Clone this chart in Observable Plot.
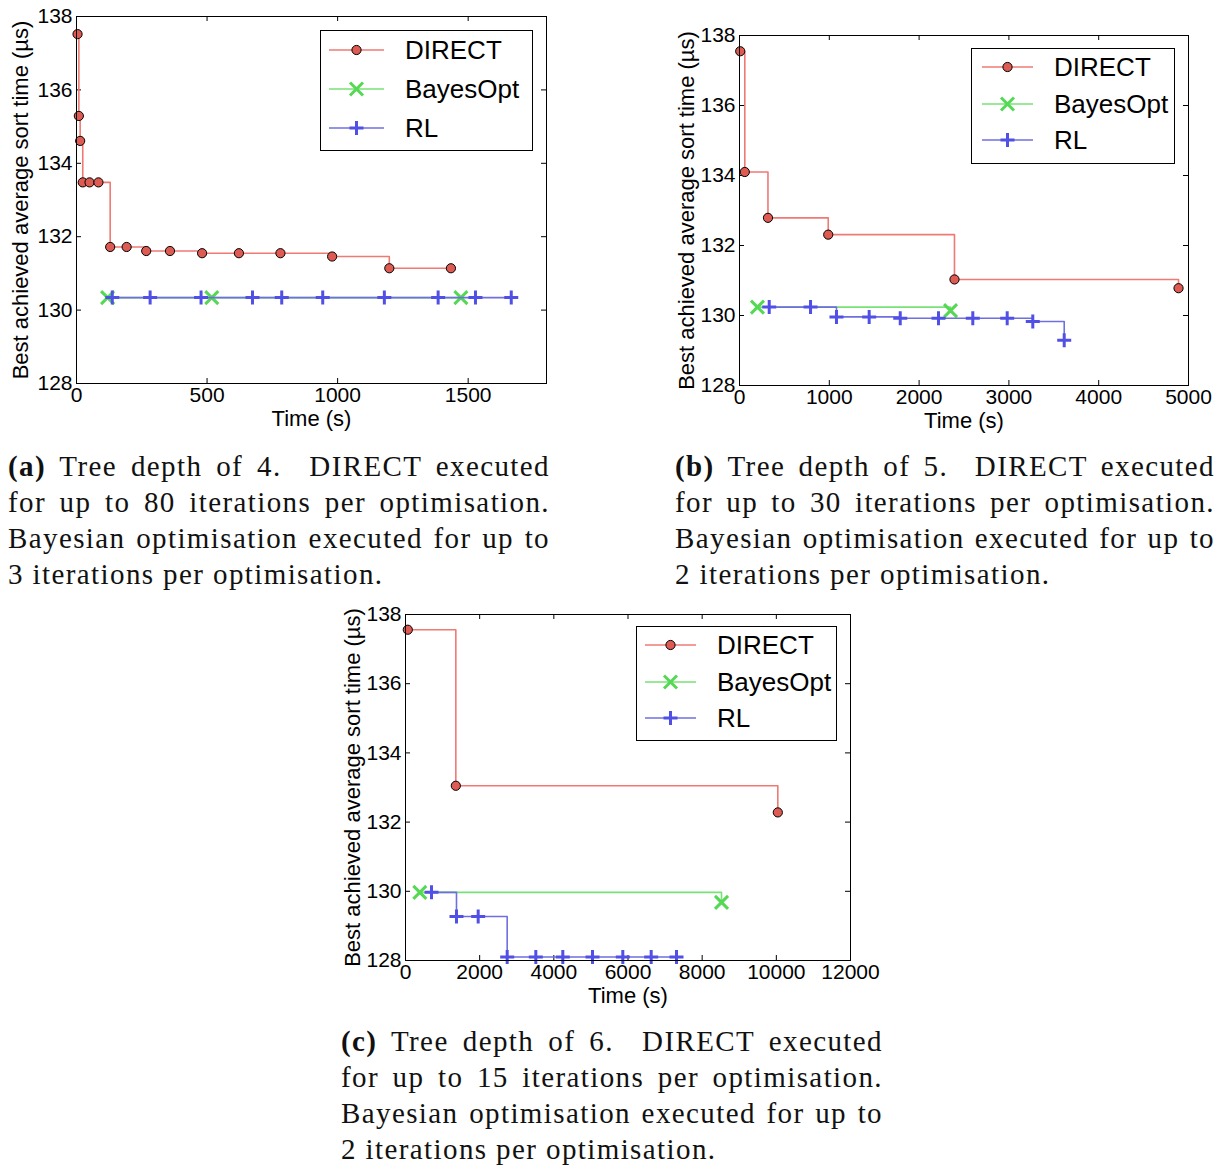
<!DOCTYPE html>
<html>
<head>
<meta charset="utf-8">
<script src="https://cdn.jsdelivr.net/npm/d3@7"></script>
<script src="https://cdn.jsdelivr.net/npm/@observablehq/plot@0.6"></script>
<style>
  html, body { margin: 0; padding: 0; background: #fff; }
  #page { position: relative; width: 1220px; height: 1166px; overflow: hidden; background: #fff; }
  .panel { position: absolute; }
  .legend { position: absolute; }
  .caption { position: absolute; font-family: "Liberation Serif", "Times New Roman", serif; font-size: 29px; line-height: 36px; color: #111; letter-spacing: 1.4px; }
  .caption div { text-align: justify; text-align-last: justify; white-space: nowrap; }
  .caption div.last { text-align-last: left; }
  .caption b { font-weight: bold; }
</style>
</head>
<body>
<div id="page"></div>
<script>
// ---------- data ----------
// (a) tree depth 4
const aDirectTime  = [4, 9, 14, 24, 50, 84, 129, 192, 267, 358, 481, 622, 781, 979, 1198, 1434];
const aDirectValue = [137.52, 135.29, 134.61, 133.48, 133.48, 133.48, 131.72, 131.72, 131.61, 131.61, 131.55, 131.55, 131.55, 131.46, 131.14, 131.14];
const aBayesTime   = [119, 518, 1472];
const aBayesValue  = [130.34, 130.34, 130.34];
const aRLTime      = [137, 282, 477, 674, 786, 943, 1179, 1385, 1528, 1665];
const aRLValue     = [130.34, 130.34, 130.34, 130.34, 130.34, 130.34, 130.34, 130.34, 130.34, 130.34];
const aXTicks      = [0, 500, 1000, 1500];

// (b) tree depth 5
const bDirectTime  = [8, 59, 317, 988, 2394, 4889];
const bDirectValue = [137.55, 134.1, 132.79, 132.31, 131.03, 130.78];
const bBayesTime   = [200, 2350];
const bBayesValue  = [130.24, 130.14];
const bRLTime      = [331, 791, 1080, 1444, 1790, 2216, 2598, 2981, 3266, 3616];
const bRLValue     = [130.24, 130.24, 129.96, 129.96, 129.92, 129.92, 129.92, 129.92, 129.83, 129.29];
const bXTicks      = [0, 1000, 2000, 3000, 4000, 5000];

// (c) tree depth 6
const cDirectTime  = [62, 1357, 10040];
const cDirectValue = [137.56, 133.05, 132.28];
const cBayesTime   = [386, 8522];
const cBayesValue  = [129.97, 129.68];
const cRLTime      = [701, 1375, 1960, 2742, 3514, 4242, 5043, 5860, 6625, 7308];
const cRLValue     = [129.97, 129.27, 129.27, 128.1, 128.1, 128.1, 128.1, 128.1, 128.1, 128.1];
const cXTicks      = [0, 2000, 4000, 6000, 8000, 10000, 12000];

const yTicks = [128, 130, 132, 134, 136, 138];
const seriesNames = ["DIRECT", "BayesOpt", "RL"];
const xLabel = "Time (s)";
const yLabel = "Best achieved average sort time (µs)";

const captionA = ["(a)", "Tree depth of 4.  DIRECT executed", "for up to 80 iterations per optimisation.", "Bayesian optimisation executed for up to", "3 iterations per optimisation."];
const captionB = ["(b)", "Tree depth of 5.  DIRECT executed", "for up to 30 iterations per optimisation.", "Bayesian optimisation executed for up to", "2 iterations per optimisation."];
const captionC = ["(c)", "Tree depth of 6.  DIRECT executed", "for up to 15 iterations per optimisation.", "Bayesian optimisation executed for up to", "2 iterations per optimisation."];

// ---------- styles ----------
const COL = {
  directLine: "#ef7a74", directFill: "#dd5b52",
  bayesLine: "#77e277", bayesMark: "#55d955",
  rlLine: "#6f6fdf", rlMark: "#5050e6"
};
const FONT = "'Liberation Sans', Arial, Helvetica, sans-serif";

const symTimes = { draw(ctx, size) { const r = Math.sqrt(size / Math.PI); ctx.moveTo(-r, -r); ctx.lineTo(r, r); ctx.moveTo(r, -r); ctx.lineTo(-r, r); } };
const symPlus  = { draw(ctx, size) { const r = Math.sqrt(size / Math.PI); ctx.moveTo(-r, 0); ctx.lineTo(r, 0); ctx.moveTo(0, -r); ctx.lineTo(0, r); } };

const zip = (t, v) => t.map((d, i) => ({t: d, v: v[i]}));

function panel(cfg) {
  const direct = zip(cfg.dT, cfg.dV), bayes = zip(cfg.bT, cfg.bV), rl = zip(cfg.rT, cfg.rV);
  const fw = cfg.width - cfg.ml - cfg.mr, fh = cfg.height - cfg.mt - cfg.mb;
  const tk = 5;
  return Plot.plot({
    width: cfg.width, height: cfg.height,
    marginLeft: cfg.ml, marginRight: cfg.mr, marginTop: cfg.mt, marginBottom: cfg.mb,
    style: {fontFamily: FONT, fontSize: "21px", color: "#000", background: "transparent", overflow: "visible"},
    x: {domain: cfg.xDomain, axis: null},
    y: {domain: [128, 138], axis: null},
    marks: [
      Plot.ruleX(cfg.xTicks, {stroke: "#000", strokeWidth: 1, insetTop: fh - tk}),
      Plot.ruleX(cfg.xTicks, {stroke: "#000", strokeWidth: 1, insetBottom: fh - tk}),
      Plot.ruleY(yTicks, {stroke: "#000", strokeWidth: 1, insetRight: fw - tk}),
      Plot.ruleY(yTicks, {stroke: "#000", strokeWidth: 1, insetLeft: fw - tk}),
      Plot.axisX({ticks: cfg.xTicks, tickSize: 0, tickPadding: 4, tickFormat: d => String(d), label: null, fontSize: 21}),
      Plot.axisY({ticks: yTicks, tickSize: 0, tickPadding: 4, tickFormat: d => String(d), label: null, fontSize: 21}),
      Plot.line(direct, {x: "t", y: "v", curve: "step-after", stroke: COL.directLine, strokeWidth: 1.6}),
      Plot.dot(direct, {x: "t", y: "v", r: 4.6, fill: COL.directFill, stroke: "#000", strokeWidth: 1}),
      Plot.line(bayes, {x: "t", y: "v", curve: "step-after", stroke: COL.bayesLine, strokeWidth: 1.6}),
      Plot.dot(bayes, {x: "t", y: "v", r: 6.5, symbol: symTimes, fill: "none", stroke: COL.bayesMark, strokeWidth: 3}),
      Plot.line(rl, {x: "t", y: "v", curve: "step-after", stroke: COL.rlLine, strokeWidth: 1.6}),
      Plot.dot(rl, {x: "t", y: "v", r: 7, symbol: symPlus, fill: "none", stroke: COL.rlMark, strokeWidth: 3}),
      Plot.frame({stroke: "#000", strokeWidth: 1}),
      Plot.text([xLabel], {frameAnchor: "bottom", dy: 35, text: d => d, fontSize: 22, textAnchor: "middle", lineAnchor: "middle", fill: "#000"}),
      Plot.text([yLabel], {frameAnchor: "left", dx: cfg.ylabDx, rotate: -90, text: d => d, fontSize: 22, textAnchor: "middle", lineAnchor: "middle", fill: "#000"})
    ]
  });
}

function legend(cfg) {
  const ns = "http://www.w3.org/2000/svg";
  const svg = document.createElementNS(ns, "svg");
  svg.setAttribute("width", cfg.w); svg.setAttribute("height", cfg.h);
  svg.setAttribute("class", "legend");
  svg.style.left = cfg.left + "px"; svg.style.top = cfg.top + "px";
  const add = (tag, attrs) => { const e = document.createElementNS(ns, tag); for (const k in attrs) e.setAttribute(k, attrs[k]); svg.appendChild(e); return e; };
  add("rect", {x: 0.5, y: 0.5, width: cfg.w - 1, height: cfg.h - 1, fill: "#fff", stroke: "#000", "stroke-width": 1});
  const lineCols = [COL.directLine, COL.bayesLine, COL.rlLine];
  seriesNames.forEach((name, i) => {
    const y = cfg.rows[i];
    add("line", {x1: cfg.l1, x2: cfg.l2, y1: y, y2: y, stroke: lineCols[i], "stroke-width": 1.6});
    const m = (cfg.l1 + cfg.l2) / 2;
    if (i === 0) add("circle", {cx: m, cy: y, r: 4.6, fill: COL.directFill, stroke: "#000", "stroke-width": 1});
    if (i === 1) add("path", {d: `M${m-6.5},${y-6.5}L${m+6.5},${y+6.5}M${m+6.5},${y-6.5}L${m-6.5},${y+6.5}`, stroke: COL.bayesMark, "stroke-width": 3, fill: "none"});
    if (i === 2) add("path", {d: `M${m-7},${y}L${m+7},${y}M${m},${y-7}L${m},${y+7}`, stroke: COL.rlMark, "stroke-width": 3, fill: "none"});
    const t = add("text", {x: cfg.tx, y: y, "dominant-baseline": "central", "font-family": FONT, "font-size": 26, fill: "#000"});
    t.textContent = name;
  });
  return svg;
}

function caption(lines, left, top, width) {
  const div = document.createElement("div");
  div.className = "caption";
  div.style.left = left + "px"; div.style.top = top + "px"; div.style.width = width + "px";
  const rows = [
    `<b>${lines[0]}</b> ${lines[1]}`,
    lines[2], lines[3], lines[4]
  ];
  div.innerHTML = rows.map((r, i) => `<div class="${i === 3 ? "last" : ""}">${r.replace("  ", "&nbsp; ")}</div>`).join("");
  return div;
}

const page = document.getElementById("page");
function place(el, left, top) { el.classList.add("panel"); el.style.left = left + "px"; el.style.top = top + "px"; page.appendChild(el); }

place(panel({dT: aDirectTime, dV: aDirectValue, bT: aBayesTime, bV: aBayesValue, rT: aRLTime, rV: aRLValue,
  xTicks: aXTicks, xDomain: [0, 1800], width: 560, height: 440, ml: 76, mr: 14, mt: 16, mb: 57, ylabDx: -56}), 0, 0);
place(panel({dT: bDirectTime, dV: bDirectValue, bT: bBayesTime, bV: bBayesValue, rT: bRLTime, rV: bRLValue,
  xTicks: bXTicks, xDomain: [0, 5000], width: 560, height: 440, ml: 79, mr: 32, mt: 35, mb: 55, ylabDx: -53}), 660, 0);
place(panel({dT: cDirectTime, dV: cDirectValue, bT: cBayesTime, bV: cBayesValue, rT: cRLTime, rV: cRLValue,
  xTicks: cXTicks, xDomain: [0, 12000], width: 560, height: 420, ml: 75, mr: 40, mt: 24, mb: 50, ylabDx: -53}), 330, 590);

page.appendChild(legend({left: 320, top: 30, w: 213, h: 121, rows: [20, 59, 98], l1: 9, l2: 64, tx: 85}));
page.appendChild(legend({left: 971, top: 48, w: 204, h: 116, rows: [19, 56, 92], l1: 11, l2: 62, tx: 83}));
page.appendChild(legend({left: 636, top: 626, w: 201, h: 115, rows: [19, 56, 92], l1: 9, l2: 60, tx: 81}));

page.appendChild(caption(captionA, 8, 448, 542));
page.appendChild(caption(captionB, 675, 448, 540));
page.appendChild(caption(captionC, 341, 1023, 542));
</script>
</body>
</html>
